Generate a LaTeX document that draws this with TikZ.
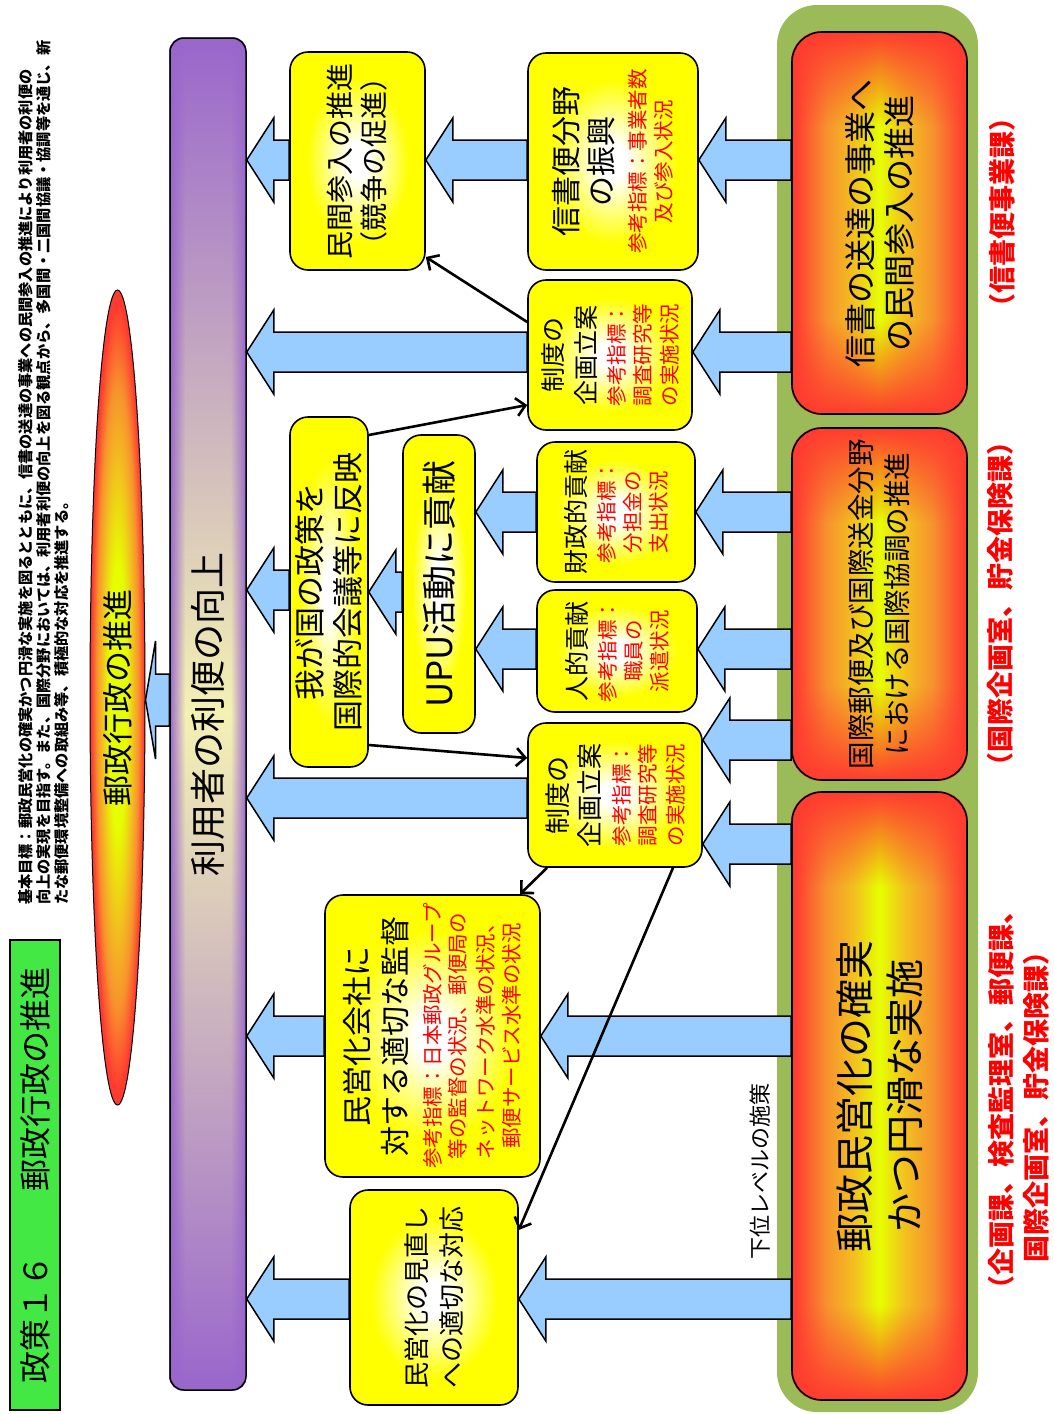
\documentclass[tikz,border=0pt]{standalone}
\usepackage{fontspec}
\setmainfont{Noto Sans CJK JP}
\usetikzlibrary{shapes.geometric,arrows.meta,calc,fadings}

\definecolor{arrowblue}{HTML}{99CCFF}
\definecolor{fieldgreen}{HTML}{9BBB59}
\definecolor{titlegreen}{HTML}{44E844}
\definecolor{barpurple}{HTML}{9966CC}
\definecolor{barpale}{HTML}{F4F1B4}
\definecolor{glowlime}{HTML}{E6FF00}
\definecolor{glowamber}{HTML}{F2C21E}
\definecolor{gloworange}{HTML}{F7922E}
\definecolor{glowred}{HTML}{FF3B30}

\pgfdeclareradialshading{yellowglow}{\pgfpoint{0bp}{0bp}}{color(0bp)=(white); color(4bp)=(white); color(19bp)=(yellow); color(50bp)=(yellow)}
\pgfdeclareradialshading{ovalglow}{\pgfpoint{0bp}{0bp}}{color(0bp)=(glowlime); color(8bp)=(glowlime); color(14bp)=(glowamber); color(19bp)=(gloworange); color(24bp)=(glowred); color(50bp)=(glowred)}
\pgfdeclarehorizontalshading{redband}{100bp}{color(0bp)=(glowred); color(26bp)=(glowred); color(35bp)=(gloworange); color(43bp)=(glowamber); color(50bp)=(glowlime); color(57bp)=(glowamber); color(65bp)=(gloworange); color(74bp)=(glowred); color(100bp)=(glowred)}

\pgfdeclarelayer{back}
\pgfdeclarelayer{mid}
\pgfsetlayers{back,mid,main}

\newcommand\jsize[2]{\fontsize{#1}{#2}\selectfont}
\newcommand\rtxt[1]{{\color{red}\jsize{20.5}{25}#1}}
\newcommand\arsw{20pt}
\newcommand\arhw{42pt}
\newcommand\arhl{27pt}
\newcommand\barr[3]{%
  \draw[blk] let \p1=(#1.north |- 0,#3), \p2=(#2.south |- 0,#3) in
    (\x1,\y1+\arsw) -- (\x2+\arhl,\y1+\arsw) -- (\x2+\arhl,\y1+\arhw) -- (\x2,\y1)
    -- (\x2+\arhl,\y1-\arhw) -- (\x2+\arhl,\y1-\arsw) -- (\x1,\y1-\arsw) -- cycle;}
\newcommand\redfill[1]{%
  \begin{scope}
  \clip[rounded corners=30pt] (#1.south west) rectangle (#1.north east);
  \shade[shading=redband] (#1.south west) rectangle (#1.north east);
  \fill[glowred, path fading=south] (#1.north east) rectangle ([yshift=-95pt]#1.south east);
  \fill[glowred, path fading=north] (#1.north west) rectangle ([yshift=95pt]#1.south west);
  \end{scope}}

\tikzset{
  ybox/.style={draw, line width=1.6pt, rounded corners=18pt, shading=yellowglow, rotate=90, align=center, inner sep=1pt},
  rbox/.style={draw, line width=1.6pt, rounded corners=30pt, rotate=90, align=center},
  blk/.style={draw, line width=1.5pt, fill=arrowblue},
  link/.style={line width=2.6pt, -{Straight Barb[length=9pt,width=18pt]}},
  tag/.style={rotate=90, align=center, text=red, font=\jsize{27}{35}\bfseries}
}

\begin{document}
\begin{tikzpicture}[x=1pt,y=-1pt]
\useasboundingbox (0,0) rectangle (1053,1414);

\node[rotate=90, draw, line width=1.5pt, fill=titlegreen, minimum width=470pt, minimum height=50pt, font=\jsize{32}{38}] (title) at (35,1175) {政策１６　　郵政行政の推進};
\node[rotate=90, anchor=north west, align=left, inner sep=0pt, font=\jsize{15.2}{18}\bfseries] (goal) at (18,905) {基本目標：郵政民営化の確実かつ円滑な実施を図るとともに、信書の送達の事業への民間参入の推進により利用者の利便の\\向上の実現を目指す。また、国際分野においては、利用者利便の向上を図る観点から、多国間・二国間協議・協調等を通じ、新\\たな郵便環境整備への取組み等、積極的な対応を推進する。};

\node[rotate=90, ellipse, draw, line width=1pt, shading=ovalglow, minimum width=815pt, minimum height=55pt, inner sep=1pt, font=\jsize{31}{36}] (adm) at (117.5,697.5) {郵政行政の推進};
\node[rotate=90, draw, line width=1.5pt, rounded corners=14pt, minimum width=1352pt, minimum height=76pt, font=\jsize{36}{40}] (bar) at (208,714) {利用者の利便の向上};

\node[rbox, minimum width=382pt, minimum height=175pt, font=\jsize{32}{39}] (letter) at (879.5,223) {信書の送達の事業へ\\の民間参入の推進};
\node[rbox, minimum width=352pt, minimum height=175pt, font=\jsize{27.5}{36}] (intl) at (879.5,604) {国際郵便及び国際送金分野\\における国際協調の推進};
\node[rbox, minimum width=608pt, minimum height=175pt, font=\jsize{39}{50}] (priv) at (879.5,1096) {郵政民営化の確実\\かつ円滑な実施};

\node[ybox, minimum width=218pt, minimum height=135pt, font=\jsize{28}{34}] (entry) at (357.5,161) {民間参入の推進\\（競争の促進）};
\node[ybox, minimum width=217pt, minimum height=170pt, font=\jsize{30}{35}] (promo) at (613,161.5) {信書便分野\\の振興\\[-2pt]\rtxt{参考指標：事業者数}\\[-9pt]\rtxt{及び参入状況}};
\node[ybox, minimum width=150pt, minimum height=164pt, font=\jsize{25}{33}] (planA) at (610,355) {制度の\\企画立案\\[-4pt]\rtxt{参考指標：}\\[-7pt]\rtxt{調査研究等}\\[-6pt]\rtxt{の実施状況}};
\node[ybox, minimum width=350pt, minimum height=78pt, font=\jsize{31}{38}] (policy) at (329,592) {我が国の政策を\\国際的会議等に反映};
\node[ybox, minimum width=298pt, minimum height=72pt, font=\jsize{35}{40}] (upu) at (439,584) {UPU活動に貢献};
\node[ybox, minimum width=140pt, minimum height=158pt, font=\jsize{25}{33}] (fund) at (616,512) {財政的貢献\\[-4pt]\rtxt{参考指標：}\\[-7pt]\rtxt{分担金の}\\[-7pt]\rtxt{支出状況}};
\node[ybox, minimum width=122pt, minimum height=160pt, font=\jsize{25}{33}] (staff) at (617,651) {人的貢献\\[-4pt]\rtxt{参考指標：}\\[-7pt]\rtxt{職員の}\\[-7pt]\rtxt{派遣状況}};
\node[ybox, minimum width=144pt, minimum height=174pt, font=\jsize{26}{32}] (planB) at (615,795) {制度の\\企画立案\\[-2pt]\rtxt{参考指標：}\\[-6pt]\rtxt{調査研究等}\\[-4pt]\rtxt{の実施状況}};
\node[ybox, minimum width=282pt, minimum height=215pt, font=\jsize{30}{38}] (superv) at (432.5,1036) {民営化会社に\\対する適切な監督\\[-4pt]\rtxt{参考指標：日本郵政グループ}\\[-13pt]\rtxt{等の監督の状況、郵便局の}\\[-10pt]\rtxt{ネットワーク水準の状況、}\\[-12pt]\rtxt{郵便サービス水準の状況}};
\node[ybox, minimum width=215pt, minimum height=168pt, font=\jsize{26}{35}] (review) at (434,1297.5) {民営化の見直し\\への適切な対応};

\node[tag] (tagA) at (1002,212) {（信書便事業課）};
\node[tag] (tagB) at (1000,604) {（国際企画室、貯金保険課）};
\node[tag] (tagC) at (1019,1100) {（企画課、検査監理室、郵便課、\\国際企画室、貯金保険課）};
\node[rotate=90, font=\jsize{22}{26}] (lower) at (760,1171) {下位レベルの施策};

\begin{pgfonlayer}{back}
\fill[fieldgreen, rounded corners=40pt] (777,5) rectangle (978,1412);
\redfill{letter}
\redfill{intl}
\redfill{priv}
\begin{scope}
\clip[rounded corners=14pt] (bar.south west) rectangle (bar.north east);
\shade[top color=barpurple, bottom color=barpurple, middle color=barpale] (bar.south west) rectangle (bar.north east);
\fill[barpurple, path fading=east] (bar.north east) rectangle ([xshift=16pt]bar.north west);
\fill[barpurple, path fading=west] (bar.south west) rectangle ([xshift=-16pt]bar.south east);
\end{scope}
\end{pgfonlayer}

\begin{pgfonlayer}{mid}
\barr{letter}{promo}{160}
\barr{letter}{planA}{352}
\barr{intl}{fund}{512}
\barr{intl}{staff}{649}
\barr{intl}{planB}{740}
\barr{priv}{planB}{844}
\barr{priv}{superv}{1036}
\barr{priv}{review}{1299}
\barr{promo}{entry}{160}
\barr{fund}{upu}{512}
\barr{staff}{upu}{649}
\barr{upu}{policy}{592}
\barr{entry}{bar}{160}
\barr{planA}{bar}{352}
\barr{policy}{bar}{590}
\barr{planB}{bar}{798}
\barr{superv}{bar}{1036}
\barr{review}{bar}{1299}
\renewcommand\arsw{26pt}\renewcommand\arhw{59pt}\renewcommand\arhl{10pt}
\barr{bar}{adm}{700}
\end{pgfonlayer}

\draw[link] (planA.north |- 0,322) -- (entry.south |- 0,257);
\draw[link] (policy.south |- 0,435) -- (planA.north |- 0,405);
\draw[link] (policy.south |- 0,745) -- (planB.north |- 0,758);
\draw[link] (planB.west -| 547,0) -- (superv.east -| 520,0);
\draw[link] (planB.west -| 673,0) -- (review.south |- 0,1230);
\end{tikzpicture}
\end{document}
